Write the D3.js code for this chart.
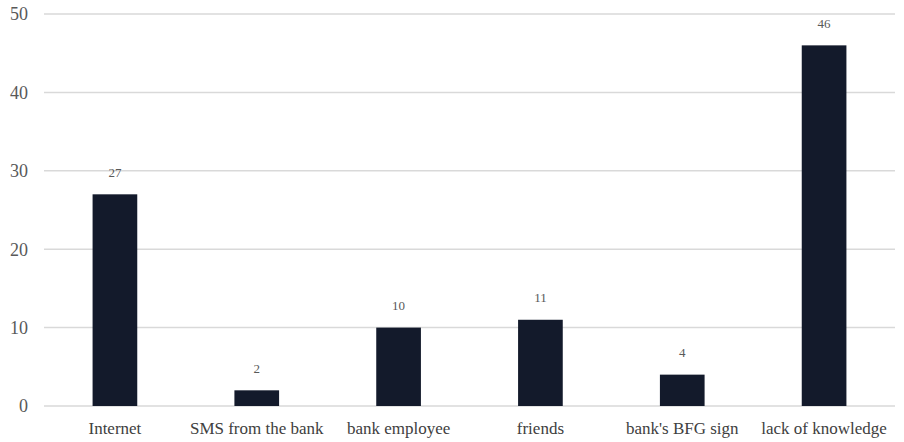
<!DOCTYPE html>
<html>
<head>
    <meta charset="utf-8" />
    <style>
        body { margin: 0; background: #fff; }
        svg { display: block; }
        text { font-family: "Liberation Serif", serif; }
    </style>
    <script src="https://d3js.org/d3.v7.min.js"></script>
</head>
<body>
<svg id="chart"></svg>
<script>

let categories = ["Internet", "SMS from the bank", "bank employee", "friends", "bank's BFG sign", "lack of knowledge"];
let values = [27, 2, 10, 11, 4, 46];
let yTicks = [0, 10, 20, 30, 40, 50];

let W = 904, H = 442;
let margin = {top: 14, right: 9, bottom: 36, left: 44};

let svg = d3.select("#chart")
    .attr("width", W)
    .attr("height", H);

let x = d3.scaleBand()
    .domain(categories)
    .range([margin.left, W - margin.right])
    .paddingInner(0.685)
    .paddingOuter(0.3425);

let y = d3.scaleLinear()
    .domain([0, 50])
    .range([H - margin.bottom, margin.top]);

// gridlines
svg.append("g")
    .selectAll("line")
    .data(yTicks)
    .enter()
    .append("line")
    .attr("x1", margin.left)
    .attr("x2", W - margin.right)
    .attr("y1", d => y(d))
    .attr("y2", d => y(d))
    .style("stroke", "#d9d9d9")
    .style("stroke-width", 1.5);

// y tick labels
svg.append("g")
    .selectAll("text")
    .data(yTicks)
    .enter()
    .append("text")
    .attr("x", 28)
    .attr("y", d => y(d))
    .attr("dy", "0.35em")
    .attr("text-anchor", "end")
    .style("font-size", "18px")
    .style("fill", "#595959")
    .text(d => d);

// bars
svg.append("g")
    .selectAll("rect")
    .data(values)
    .enter()
    .append("rect")
    .attr("x", (d, i) => x(categories[i]))
    .attr("width", x.bandwidth())
    .attr("y", d => y(d))
    .attr("height", d => y(0) - y(d))
    .style("fill", "#131a2b");

// value labels
svg.append("g")
    .selectAll("text")
    .data(values)
    .enter()
    .append("text")
    .attr("x", (d, i) => x(categories[i]) + x.bandwidth() / 2)
    .attr("y", d => y(d) - 22)
    .attr("dy", "0.35em")
    .attr("text-anchor", "middle")
    .style("font-size", "13px")
    .style("fill", "#595959")
    .text(d => d);

// category labels
svg.append("g")
    .selectAll("text")
    .data(categories)
    .enter()
    .append("text")
    .attr("x", d => x(d) + x.bandwidth() / 2)
    .attr("y", 428)
    .attr("dy", "0.35em")
    .attr("text-anchor", "middle")
    .style("font-size", "17px")
    .style("fill", "#404040")
    .text(d => d);

</script>
</body>
</html>
